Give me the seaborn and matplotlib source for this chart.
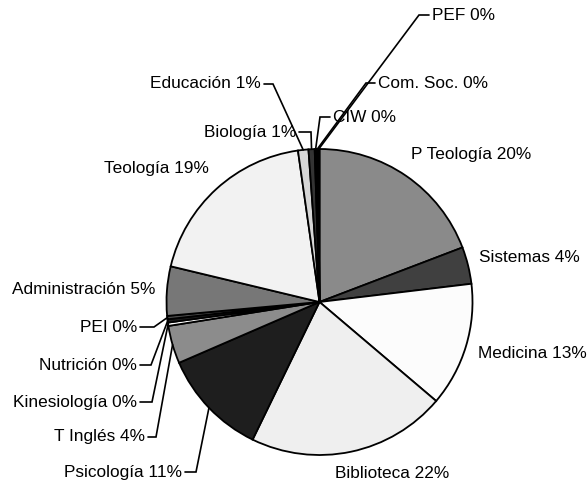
import matplotlib
matplotlib.use("Agg")
import matplotlib.pyplot as plt
import seaborn as sns
import numpy as np

# slices, clockwise from 12 o'clock
careers = ["P Teología", "Sistemas", "Medicina", "Biblioteca", "Psicología",
           "T Inglés", "Kinesiología", "Nutrición", "PEI", "Administración",
           "Teología", "Educación", "Biología", "CIW", "Com. Soc.", "PEF"]
shares = [19.2, 3.9, 13.1, 21.0, 11.3, 4.0, 0.35, 0.35, 0.35, 5.2,
          19.0, 1.1, 0.65, 0.2, 0.15, 0.15]
pct_labels = [20, 4, 13, 22, 11, 4, 0, 0, 0, 5, 19, 1, 1, 0, 0, 0]
colors = ["#8a8a8a", "#404040", "#fcfcfc", "#efefef", "#1e1e1e",
          "#8c8c8c", "#ffffff", "#1a1a1a", "#4a4a4a", "#777777",
          "#f2f2f2", "#d6d6d6", "#333333", "#111111", "#ffffff", "#808080"]

# label layout in pixel coordinates: (x, y, ha, elbow_x or None)
label_pos = [
    (411, 155, "left", None),
    (479, 257, "left", None),
    (478, 354, "left", None),
    (335, 473, "left", None),
    (182, 472, "right", 196),
    (145, 437, "right", 156),
    (137, 402, "right", 152),
    (137, 365, "right", 151),
    (137, 327, "right", 154),
    (155, 290, "right", None),
    (209, 169, "right", None),
    (261, 84, "right", 273),
    (296, 132, "right", 311),
    (333, 117, "left", 320),
    (378, 83, "left", 366),
    (432, 15, "left", 419),
]

sns.set_style("white")
plt.rcParams["font.family"] = ["Liberation Sans", "DejaVu Sans"]

fig = plt.figure(figsize=(5.87, 4.88), dpi=100)
ax = fig.add_axes([0, 0, 1, 1])

cx, cy, r = 319.5, 302, 153
wedges, _ = ax.pie(shares, colors=colors, startangle=270, counterclock=True,
                   center=(cx, cy), radius=r, frame=True,
                   wedgeprops=dict(edgecolor="black", linewidth=1.3))
# pixel-like coordinates, y pointing down
ax.set_xlim(0, 587)
ax.set_ylim(488, 0)
ax.set_aspect("equal")
ax.axis("off")

for w, name, pct, (tx, ty, ha, ex) in zip(wedges, careers, pct_labels, label_pos):
    ax.text(tx, ty, f"{name} {pct}%", ha=ha, va="center", fontsize=12.4,
            color="black")
    if ex is None:
        continue
    mid = np.deg2rad((w.theta1 + w.theta2) / 2)
    px, py = cx + r * np.cos(mid), cy + r * np.sin(mid)
    sx = tx + 3 if ha == "right" else tx - 3
    ax.plot([sx, ex, px], [ty, ty, py], color="black", lw=1.2,
            solid_joinstyle="miter", zorder=5)

fig.savefig("out.png", dpi=100)
